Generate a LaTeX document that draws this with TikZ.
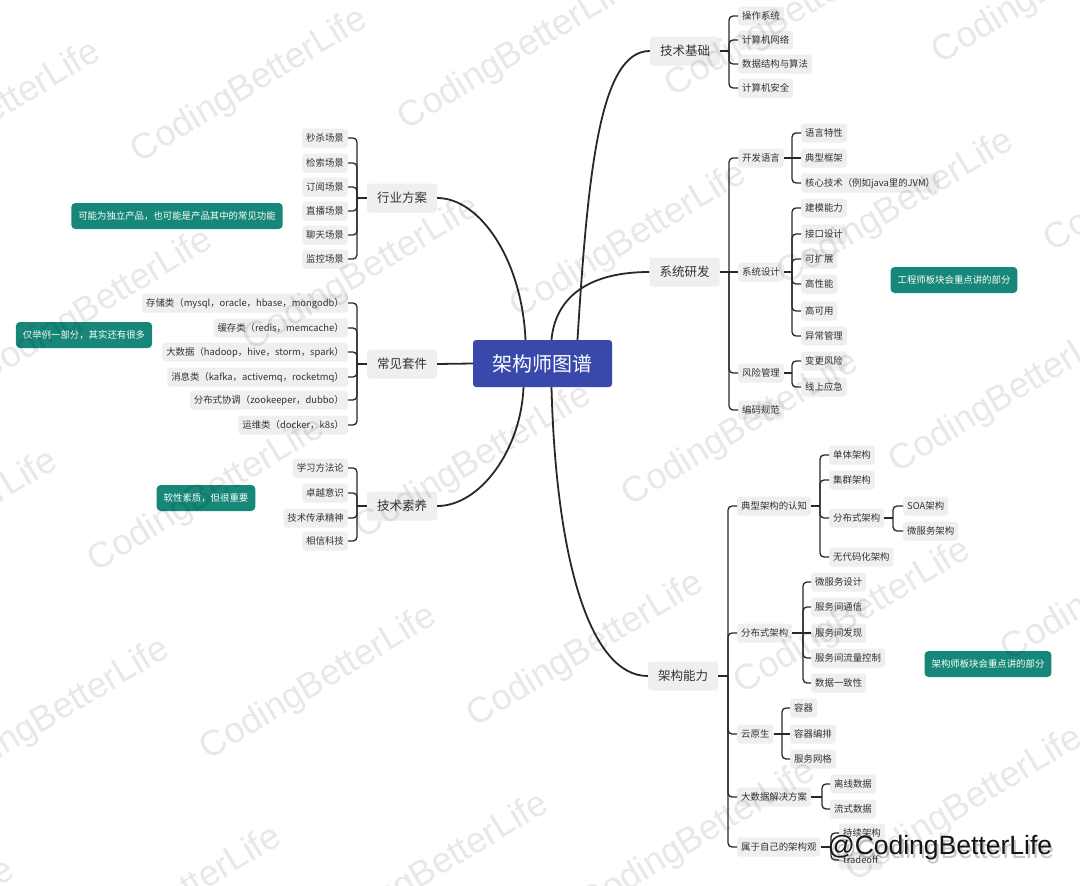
\documentclass[tikz,border=0pt]{standalone}
\usepackage{fontspec}
\setmainfont{Noto Sans CJK SC}
\newfontfamily\wmfont{Liberation Sans}

\definecolor{rootblue}{RGB}{57,73,171}
\definecolor{noteteal}{RGB}{22,135,120}
\definecolor{boxgray}{RGB}{239,239,239}
\definecolor{ink}{RGB}{51,51,51}
\definecolor{wire}{RGB}{40,40,40}

\tikzset{
  root/.style={fill=rootblue, text=white, rounded corners=3pt, minimum width=139pt,
    minimum height=47pt, inner sep=0pt, font=\fontsize{20}{24}\selectfont},
  topic/.style={fill=boxgray, text=ink, rounded corners=3pt, minimum width=70pt,
    minimum height=29pt, inner sep=0pt, font=\fontsize{12.5}{15}\selectfont},
  leaf/.style={fill=boxgray, text=ink, rounded corners=3pt, inner xsep=4pt, inner ysep=0pt,
    text height=8pt, text depth=1.5pt, minimum height=19pt, font=\fontsize{9.4}{11}\selectfont},
  note/.style={fill=noteteal, text=white, rounded corners=4pt, inner xsep=7pt, inner ysep=0pt,
    text height=8pt, text depth=1.5pt, minimum height=26pt, font=\fontsize{9.4}{11}\selectfont},
  trunk/.style={draw=wire, line width=1.8pt},
  brk/.style={draw=wire, line width=1.3pt, rounded corners=4pt},
  wmark/.style={font=\wmfont\fontsize{36}{40}\selectfont, text=black, text opacity=0.09,
    rotate=31, inner sep=0pt},
}

% bracket fans: parent, bracket x coordinate, children
\newcommand\fanright[3]{%
  \draw[brk] (#1.east) -- (#1.east -| #2);
  \foreach \c in {#3}{\draw[brk] (#1.east -| #2) |- (\c.west);}}
\newcommand\fanleft[3]{%
  \draw[brk] (#1.west) -- (#1.west -| #2);
  \foreach \c in {#3}{\draw[brk] (#1.west -| #2) |- (\c.east);}}

\begin{document}
\begin{tikzpicture}[x=1pt, y=-1pt]
\useasboundingbox[fill=white] (0,0) rectangle (1080,886);

% ---------- centre ----------
\node[root] (root) at (542.5,363.5) {架构师图谱};

% ---------- main topics ----------
\node[topic] (tb) at (685,51) {技术基础};
\node[topic] (sr) at (684.5,272) {系统研发};
\node[topic] (jg) at (683,676) {架构能力};
\node[topic] (hy) at (402,198) {行业方案};
\node[topic] (cj) at (402,364) {常见套件};
\node[topic] (js) at (402,506) {技术素养};

\draw[trunk] ([xshift=35pt]root.north) .. controls (588,170) and (600,51) .. (tb.west);
\draw[trunk] ([xshift=9pt]root.north) .. controls (555,300) and (585,272) .. (sr.west);
\draw[trunk] ([xshift=-17pt]root.north) .. controls (522,260) and (480,198) .. (hy.east);
\draw[trunk] (root.west) -- (cj.east);
\draw[trunk] ([xshift=-19pt]root.south) .. controls (521,450) and (480,506) .. (js.east);
\draw[trunk] ([xshift=9pt]root.south) .. controls (556,560) and (590,676) .. (jg.west);

% ---------- 技术基础 ----------
\node[leaf,anchor=west] (tb1) at (738,16) {操作系统};
\node[leaf,anchor=west] (tb2) at (738,40) {计算机网络};
\node[leaf,anchor=west] (tb3) at (738,64) {数据结构与算法};
\node[leaf,anchor=west] (tb4) at (738,88) {计算机安全};
\coordinate (tbx) at (729,0);
\fanright{tb}{tbx}{tb1,tb2,tb3,tb4}

% ---------- 系统研发 ----------
\node[leaf,anchor=west] (sr1) at (738,158) {开发语言};
\node[leaf,anchor=west] (sr2) at (738,272) {系统设计};
\node[leaf,anchor=west] (sr3) at (738,373) {风险管理};
\node[leaf,anchor=west] (sr4) at (738,410) {编码规范};
\coordinate (srx) at (729,0);
\fanright{sr}{srx}{sr1,sr3,sr4}
\draw[brk] (sr.east -| srx) -- (sr2.west);

\node[leaf,anchor=west] (ya) at (801,133) {语言特性};
\node[leaf,anchor=west] (yb) at (801,158) {典型框架};
\node[leaf,anchor=west] (yc) at (801,183) {核心技术（例如java里的JVM）};
\coordinate (yx) at (792,0);
\fanright{sr1}{yx}{ya,yc}
\draw[brk] (sr1.east -| yx) -- (yb.west);

\node[leaf,anchor=west] (sa) at (801,208) {建模能力};
\node[leaf,anchor=west] (sb) at (801,234) {接口设计};
\node[leaf,anchor=west] (sc) at (801,259) {可扩展};
\node[leaf,anchor=west] (sd) at (801,284) {高性能};
\node[leaf,anchor=west] (se) at (801,311) {高可用};
\node[leaf,anchor=west] (sf) at (801,336) {异常管理};
\coordinate (sx) at (792,0);
\fanright{sr2}{sx}{sa,sb,sc,sd,se,sf}

\node[leaf,anchor=west] (ra) at (801,361) {变更风险};
\node[leaf,anchor=west] (rb) at (801,387) {线上应急};
\coordinate (rx) at (792,0);
\fanright{sr3}{rx}{ra,rb}

% ---------- 架构能力 ----------
\node[leaf,anchor=west] (jg1) at (737,506) {典型架构的认知};
\node[leaf,anchor=west] (jg2) at (737,633) {分布式架构};
\node[leaf,anchor=west] (jg3) at (737,734) {云原生};
\node[leaf,anchor=west] (jg4) at (737,797) {大数据解决方案};
\node[leaf,anchor=west] (jg5) at (737,847) {属于自己的架构观};
\coordinate (jgx) at (728,0);
\fanright{jg}{jgx}{jg1,jg2,jg3,jg4,jg5}

\node[leaf,anchor=west] (ka) at (829,455) {单体架构};
\node[leaf,anchor=west] (kb) at (829,480) {集群架构};
\node[leaf,anchor=west] (kc) at (829,518) {分布式架构};
\node[leaf,anchor=west] (kd) at (829,557) {无代码化架构};
\coordinate (kx) at (820,0);
\fanright{jg1}{kx}{ka,kb,kc,kd}

\node[leaf,anchor=west] (kca) at (903,506) {SOA架构};
\node[leaf,anchor=west] (kcb) at (903,531) {微服务架构};
\coordinate (kcx) at (893,0);
\fanright{kc}{kcx}{kca,kcb}

\node[leaf,anchor=west] (fa) at (811,582) {微服务设计};
\node[leaf,anchor=west] (fb) at (811,607) {服务间通信};
\node[leaf,anchor=west] (fc) at (811,633) {服务间发现};
\node[leaf,anchor=west] (fd) at (811,658) {服务间流量控制};
\node[leaf,anchor=west] (fe) at (811,683) {数据一致性};
\coordinate (fx) at (803,0);
\fanright{jg2}{fx}{fa,fb,fd,fe}
\draw[brk] (jg2.east -| fx) -- (fc.west);

\node[leaf,anchor=west] (ca) at (790,708) {容器};
\node[leaf,anchor=west] (cb) at (790,734) {容器编排};
\node[leaf,anchor=west] (cc) at (790,759) {服务网格};
\coordinate (cx) at (782,0);
\fanright{jg3}{cx}{ca,cc}
\draw[brk] (jg3.east -| cx) -- (cb.west);

\node[leaf,anchor=west] (da) at (830,784) {离线数据};
\node[leaf,anchor=west] (db) at (830,809) {流式数据};
\coordinate (dx) at (822,0);
\fanright{jg4}{dx}{da,db}

\node[leaf,anchor=west] (ea) at (839,833) {持续架构};
\node[leaf,anchor=west] (eb) at (839,860) {tradeoff};
\coordinate (ex) at (831,0);
\fanright{jg5}{ex}{ea,eb}

% ---------- 行业方案 ----------
\node[leaf,anchor=east] (h1) at (348,138) {秒杀场景};
\node[leaf,anchor=east] (h2) at (348,163) {检索场景};
\node[leaf,anchor=east] (h3) at (348,187) {订阅场景};
\node[leaf,anchor=east] (h4) at (348,211) {直播场景};
\node[leaf,anchor=east] (h5) at (348,235) {聊天场景};
\node[leaf,anchor=east] (h6) at (348,259) {监控场景};
\coordinate (hx) at (357,0);
\fanleft{hy}{hx}{h1,h2,h3,h4,h5,h6}

% ---------- 常见套件 ----------
\node[leaf,anchor=east] (c1) at (348,303) {存储类（mysql，oracle，hbase，mongodb）};
\node[leaf,anchor=east] (c2) at (348,328) {缓存类（redis，memcache）};
\node[leaf,anchor=east] (c3) at (348,352) {大数据（hadoop，hive，storm，spark）};
\node[leaf,anchor=east] (c4) at (348,377) {消息类（kafka，activemq，rocketmq）};
\node[leaf,anchor=east] (c5) at (348,400) {分布式协调（zookeeper，dubbo）};
\node[leaf,anchor=east] (c6) at (348,425) {运维类（docker，k8s）};
\coordinate (cjx) at (357,0);
\fanleft{cj}{cjx}{c1,c2,c3,c4,c5,c6}

% ---------- 技术素养 ----------
\node[leaf,anchor=east] (s1) at (348,468) {学习方法论};
\node[leaf,anchor=east] (s2) at (348,493) {卓越意识};
\node[leaf,anchor=east] (s3) at (348,518) {技术传承精神};
\node[leaf,anchor=east] (s4) at (348,541) {相信科技};
\coordinate (jsx) at (357,0);
\fanleft{js}{jsx}{s1,s2,s3,s4}

% ---------- notes ----------
\node[note] (n1) at (177,216) {可能为独立产品，也可能是产品其中的常见功能};
\node[note] (n2) at (84,335) {仅举例一部分，其实还有很多};
\node[note] (n3) at (206,498) {软性素质，但很重要};
\node[note] (n4) at (954,280) {工程师板块会重点讲的部分};
\node[note] (n5) at (988,664) {架构师板块会重点讲的部分};

% ---------- watermark lattice ----------
\begin{scope}
\clip (0,0) rectangle (1080,886);
\foreach \i in {-3,...,4}{
  \foreach \j in {-1,...,4}{
    \pgfmathsetmacro\wx{250+267*\i+112*\j}
    \pgfmathsetmacro\wy{86-33*\i+188*\j}
    \pgfmathtruncatemacro\keep{and(and(\wx>-200,\wx<1280),and(\wy>-120,\wy<1010))}
    \ifnum\keep=1
      \node[wmark] (wm\i\j) at (\wx,\wy) {CodingBetterLife};
    \fi
  }}
\end{scope}

% ---------- signature ----------
\node[font=\wmfont\fontsize{26.5}{30}\selectfont, text=black, text opacity=0.22, inner sep=0pt]
  (sigshade) at (942,852) {@CodingBetterLife};
\node[font=\wmfont\fontsize{26.5}{30}\selectfont, text=black!92, inner sep=0pt]
  (sig) at (940,848) {@CodingBetterLife};
\end{tikzpicture}
\end{document}
